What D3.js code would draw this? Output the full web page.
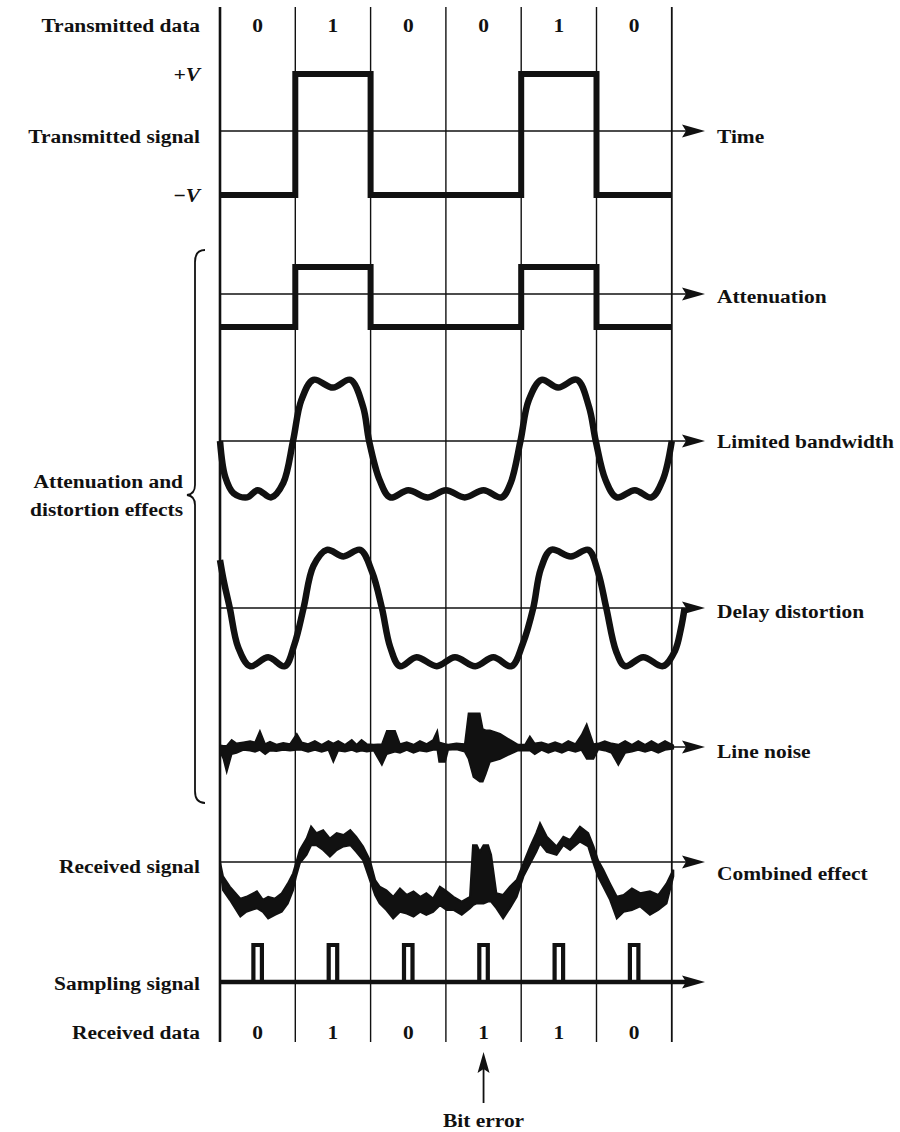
<!DOCTYPE html>
<html>
<head>
<meta charset="utf-8">
<script src="https://cdn.jsdelivr.net/npm/d3@7"></script>
<style>
  html, body { margin: 0; padding: 0; background: #fff; }
  svg text { font-family: "Liberation Serif", "Times New Roman", serif; font-weight: bold; font-size: 19.5px; fill: #111; }
</style>
</head>
<body>
<div id="displayContent"></div>
<script>
// bit streams (time in bit periods, 0..6)
const sentBits = [0, 1, 0, 0, 1, 0];
const receivedBits = [0, 1, 0, 1, 1, 0];
const sampleTimes = [0.5, 1.5, 2.5, 3.5, 4.5, 5.5];

// [t, v] with v in units of V
const bandwidthCurve = [
    [0.00, 0.00], [0.07, -0.60], [0.18, -0.87], [0.36, -0.94], [0.50, -0.82], [0.68, -0.94],
    [0.84, -0.70], [0.97, 0.00], [1.08, 0.68], [1.24, 1.02], [1.50, 0.89], [1.73, 1.02],
    [1.90, 0.57], [1.98, 0.00], [2.12, -0.65], [2.26, -0.94], [2.50, -0.82], [2.76, -0.94],
    [3.00, -0.82], [3.25, -0.94], [3.50, -0.82], [3.74, -0.94], [3.86, -0.70], [3.99, 0.00],
    [4.10, 0.68], [4.27, 1.02], [4.49, 0.89], [4.74, 1.02], [4.90, 0.57], [4.99, 0.00],
    [5.12, -0.65], [5.27, -0.94], [5.51, -0.82], [5.73, -0.94], [5.88, -0.65], [6.00, 0.00]
];

const delayCurve = [
    [0.00, 0.80], [0.05, 0.45], [0.13, 0.00], [0.24, -0.65], [0.40, -0.97], [0.64, -0.82],
    [0.86, -0.97], [0.99, -0.60], [1.11, 0.00], [1.24, 0.70], [1.42, 0.97], [1.64, 0.86],
    [1.86, 0.97], [2.02, 0.60], [2.15, 0.00], [2.26, -0.65], [2.39, -0.97], [2.61, -0.82],
    [2.88, -0.97], [3.12, -0.82], [3.39, -0.97], [3.63, -0.82], [3.87, -0.97], [4.02, -0.60],
    [4.16, 0.00], [4.26, 0.65], [4.40, 0.97], [4.66, 0.86], [4.89, 0.97], [5.02, 0.60],
    [5.13, 0.00], [5.26, -0.72], [5.38, -0.97], [5.62, -0.82], [5.88, -0.97], [6.04, -0.72],
    [6.12, -0.35], [6.17, 0.00]
];

// [t, upper, lower]
const noiseBand = [
    [0.00, 0.03, -0.08], [0.045, 0.02, -0.20], [0.089, 0.02, -0.42], [0.155, 0.12, -0.12],
    [0.22, 0.06, -0.10], [0.31, 0.08, -0.05], [0.40, 0.10, -0.06], [0.465, 0.08, -0.08],
    [0.53, 0.27, -0.05], [0.60, 0.05, -0.12], [0.664, 0.09, -0.06], [0.75, 0.04, -0.07],
    [0.84, 0.07, -0.05], [0.93, 0.05, -0.06], [1.02, 0.22, -0.05], [1.085, 0.08, -0.05],
    [1.17, 0.05, -0.08], [1.26, 0.10, -0.05], [1.35, 0.04, -0.08], [1.44, 0.10, -0.05],
    [1.505, 0.06, -0.25], [1.57, 0.10, -0.06], [1.66, 0.04, -0.08], [1.75, 0.12, -0.05],
    [1.815, 0.04, -0.08], [1.88, 0.12, -0.06], [1.95, 0.05, -0.08], [2.04, 0.04, -0.06],
    [2.15, 0.05, -0.30], [2.215, 0.27, -0.12], [2.325, 0.27, -0.08], [2.39, 0.05, -0.10],
    [2.48, 0.08, -0.05], [2.57, 0.04, -0.10], [2.655, 0.10, -0.06], [2.745, 0.05, -0.08],
    [2.83, 0.12, -0.05], [2.886, 0.27, -0.05], [2.91, 0.08, -0.25], [2.99, 0.05, -0.25],
    [3.03, 0.04, -0.05], [3.14, 0.06, -0.04], [3.25, 0.05, -0.08], [3.30, 0.56, -0.20],
    [3.365, 0.56, -0.50], [3.45, 0.56, -0.58], [3.49, 0.30, -0.58], [3.53, 0.28, -0.45],
    [3.585, 0.28, -0.25], [3.72, 0.22, -0.20], [3.85, 0.12, -0.12], [3.96, 0.04, -0.06],
    [4.05, 0.04, -0.06], [4.115, 0.18, -0.06], [4.18, 0.06, -0.12], [4.27, 0.08, -0.05],
    [4.36, 0.04, -0.10], [4.45, 0.08, -0.06], [4.54, 0.04, -0.10], [4.625, 0.10, -0.05],
    [4.72, 0.05, -0.08], [4.80, 0.20, -0.05], [4.87, 0.38, -0.20], [4.96, 0.05, -0.20],
    [5.025, 0.06, -0.04], [5.11, 0.10, -0.06], [5.20, 0.06, -0.10], [5.29, 0.04, -0.30],
    [5.38, 0.10, -0.10], [5.47, 0.04, -0.08], [5.555, 0.10, -0.05], [5.645, 0.04, -0.08],
    [5.73, 0.10, -0.05], [5.82, 0.04, -0.10], [5.91, 0.10, -0.05], [6.02, 0.03, -0.03]
];

const combinedBand = [
    [0.00, 0.00, -0.08], [0.04, -0.24, -0.47], [0.13, -0.41, -0.63], [0.27, -0.61, -0.91],
    [0.35, -0.58, -0.83], [0.49, -0.49, -0.77], [0.57, -0.63, -0.83], [0.64, -0.58, -0.94],
    [0.73, -0.61, -0.88], [0.82, -0.52, -0.83], [0.90, -0.36, -0.69], [0.97, -0.19, -0.47],
    [1.01, -0.02, -0.24], [1.06, 0.20, -0.02], [1.15, 0.39, 0.12], [1.21, 0.59, 0.28],
    [1.28, 0.48, 0.28], [1.37, 0.53, 0.20], [1.46, 0.39, 0.09], [1.55, 0.48, 0.20],
    [1.64, 0.45, 0.26], [1.73, 0.53, 0.28], [1.81, 0.42, 0.17], [1.90, 0.26, 0.03],
    [1.99, 0.03, -0.30], [2.06, -0.30, -0.55], [2.12, -0.41, -0.69], [2.21, -0.47, -0.80],
    [2.30, -0.58, -0.94], [2.39, -0.44, -0.83], [2.48, -0.55, -0.86], [2.57, -0.49, -0.91],
    [2.66, -0.58, -0.83], [2.74, -0.52, -0.88], [2.83, -0.61, -0.83], [2.92, -0.41, -0.72],
    [3.01, -0.49, -0.80], [3.10, -0.58, -0.80], [3.21, -0.66, -0.88], [3.32, -0.58, -0.77],
    [3.36, 0.28, -0.72], [3.41, 0.28, -0.69], [3.45, 0.17, -0.69], [3.50, 0.28, -0.69],
    [3.56, 0.28, -0.66], [3.60, 0.12, -0.66], [3.67, -0.52, -0.77], [3.76, -0.55, -0.94],
    [3.85, -0.41, -0.77], [3.94, -0.30, -0.58], [4.03, -0.02, -0.24], [4.12, 0.26, -0.02],
    [4.20, 0.48, 0.17], [4.25, 0.645, 0.31], [4.34, 0.42, 0.17], [4.47, 0.26, 0.12],
    [4.56, 0.42, 0.28], [4.65, 0.37, 0.20], [4.78, 0.59, 0.34], [4.89, 0.48, 0.26],
    [4.96, 0.26, -0.02], [5.02, 0.03, -0.24], [5.09, -0.13, -0.41], [5.18, -0.36, -0.63],
    [5.27, -0.58, -0.94], [5.36, -0.55, -0.83], [5.47, -0.44, -0.80], [5.58, -0.52, -0.74],
    [5.71, -0.49, -0.88], [5.82, -0.55, -0.80], [5.93, -0.36, -0.69], [6.02, -0.13, -0.24]
];

const leftLabels = ["Transmitted data", "Transmitted signal", "Received signal", "Sampling signal", "Received data"];
const rightLabels = ["Time", "Attenuation", "Limited bandwidth", "Delay distortion", "Line noise", "Combined effect"];
const levelLabels = ["+V", "\u2212V"];
const braceLabel = ["Attenuation and", "distortion effects"];
const errorLabel = "Bit error";

const W = 900, H = 1132;
const SX = 1.1; // scan is stretched sideways

const x = d3.scaleLinear().domain([0, 6]).range([220, 671.8]);

function rowScale(mid, amp) {
    return d3.scaleLinear().domain([-1, 1]).range([mid + amp, mid - amp]);
}

const rows = {
    sent:  { axis: 131, y: rowScale(134.5, 60.5), label: 143 },
    att:   { axis: 294, y: rowScale(297, 30), label: 303 },
    bw:    { axis: 441, y: rowScale(441, 60), label: 448 },
    delay: { axis: 608, y: rowScale(608, 60), label: 618 },
    noise: { axis: 747, y: rowScale(747, 60), label: 758 },
    comb:  { axis: 862, y: rowScale(862, 60), label: 880 },
    samp:  { axis: 982, y: d3.scaleLinear().domain([0, 1]).range([982, 945]), label: 990 }
};

const svg = d3.select("#displayContent")
    .append("svg")
    .attr("width", W)
    .attr("height", H)
    .attr("xmlns", "http://www.w3.org/2000/svg");

svg.append("rect").attr("width", W).attr("height", H).attr("fill", "#fff");

// bit boundaries
svg.append("g")
    .selectAll("line")
    .data(d3.range(0, 7))
    .enter()
    .append("line")
    .attr("x1", d => x(d)).attr("x2", d => x(d))
    .attr("y1", 7).attr("y2", 1042)
    .attr("stroke", "#111")
    .attr("stroke-width", d => d === 0 ? 2.6 : (d === 6 ? 1.8 : 1.4));

// axes with arrow heads
function axisArrow(yPos, width, withHead) {
    svg.append("line")
        .attr("x1", x(0)).attr("x2", withHead ? 688 : x(6))
        .attr("y1", yPos).attr("y2", yPos)
        .attr("stroke", "#111")
        .attr("stroke-width", width);
    if (withHead) {
        svg.append("path")
            .attr("d", `M682,${yPos - 6.5} L705,${yPos} L682,${yPos + 6.5} L686,${yPos} Z`)
            .attr("fill", "#111");
    }
}
axisArrow(rows.sent.axis, 1.5, true);
axisArrow(rows.att.axis, 1.5, true);
axisArrow(rows.bw.axis, 1.5, true);
axisArrow(rows.delay.axis, 1.5, true);
axisArrow(rows.noise.axis, 1.5, true);
axisArrow(rows.comb.axis, 1.5, true);
axisArrow(rows.samp.axis, 4.5, true);

// square waves
function stepPoints(bits) {
    let pts = bits.map((b, i) => [i, b ? 1 : -1]);
    pts.push([bits.length, bits[bits.length - 1] ? 1 : -1]);
    return pts;
}

function drawStep(row) {
    svg.append("path")
        .datum(stepPoints(sentBits))
        .attr("d", d3.line()
            .x(d => x(d[0]))
            .y(d => row.y(d[1]))
            .curve(d3.curveStepAfter))
        .attr("fill", "none")
        .attr("stroke", "#111")
        .attr("stroke-width", 6)
        .attr("stroke-linejoin", "miter");
}
drawStep(rows.sent);
drawStep(rows.att);

// smooth distorted waves
function drawSmooth(data, row) {
    svg.append("path")
        .datum(data)
        .attr("d", d3.line()
            .x(d => x(d[0]))
            .y(d => row.y(d[1]))
            .curve(d3.curveCatmullRom.alpha(0.5)))
        .attr("fill", "none")
        .attr("stroke", "#111")
        .attr("stroke-width", 6.5)
        .attr("stroke-linejoin", "round");
}
drawSmooth(bandwidthCurve, rows.bw);
drawSmooth(delayCurve, rows.delay);

// noisy bands
function drawBand(data, row, sw) {
    svg.append("path")
        .datum(data)
        .attr("d", d3.area()
            .x(d => x(d[0]))
            .y0(d => row.y(d[2]))
            .y1(d => row.y(d[1])))
        .attr("fill", "#111")
        .attr("stroke", "#111")
        .attr("stroke-width", sw)
        .attr("stroke-linejoin", "miter");
}
drawBand(noiseBand, rows.noise, 1.6);
drawBand(combinedBand, rows.comb, 2.0);

// sampling pulses
const pulseW = 0.113;
svg.append("g")
    .selectAll("path")
    .data(sampleTimes)
    .enter()
    .append("path")
    .attr("d", t => d3.line()
        .x(d => x(d[0]))
        .y(d => rows.samp.y(d[1]))([[t - pulseW / 2, 0], [t - pulseW / 2, 1], [t + pulseW / 2, 1], [t + pulseW / 2, 0]]))
    .attr("fill", "none")
    .attr("stroke", "#111")
    .attr("stroke-width", 4.2)
    .attr("stroke-linejoin", "miter");

// text helpers (stretched horizontally like the scan)
function label(txt, px, py, anchor, italic) {
    let g = svg.append("g").attr("transform", `translate(${px},${py}) scale(${SX},1)`);
    let t = g.append("text")
        .attr("text-anchor", anchor)
        .text(txt);
    if (italic) t.style("font-style", "italic");
    return t;
}

// left labels
const leftY = [32, rows.sent.label, rows.comb.axis + 11, rows.samp.label, 1039];
leftLabels.forEach((s, i) => label(s, 200, leftY[i], "end"));
label(levelLabels[0], 200, 81, "end", true);
label(levelLabels[1], 200, 202, "end", true);

// right labels
const rightY = [rows.sent.label, rows.att.label, rows.bw.label, rows.delay.label, rows.noise.label, rows.comb.label];
rightLabels.forEach((s, i) => label(s, 717, rightY[i], "start"));

// bit values
sentBits.forEach((b, i) => label(String(b), x(i + 0.5), 32, "middle"));
receivedBits.forEach((b, i) => label(String(b), x(i + 0.5), 1039, "middle"));

// brace
const bp = d3.path();
bp.moveTo(205, 250);
bp.quadraticCurveTo(195, 250, 195, 262);
bp.lineTo(195, 485);
bp.quadraticCurveTo(195, 494, 187, 495);
bp.quadraticCurveTo(195, 496, 195, 505);
bp.lineTo(195, 791);
bp.quadraticCurveTo(195, 803, 205, 803);
svg.append("path")
    .attr("d", bp.toString())
    .attr("fill", "none")
    .attr("stroke", "#111")
    .attr("stroke-width", 1.8);

label(braceLabel[0], 183, 488, "end");
label(braceLabel[1], 183, 516, "end");

// bit error arrow
const errT = 3.5;
svg.append("line")
    .attr("x1", x(errT)).attr("x2", x(errT))
    .attr("y1", 1103).attr("y2", 1068)
    .attr("stroke", "#111").attr("stroke-width", 1.8);
svg.append("path")
    .attr("d", `M${x(errT) - 6},1073 L${x(errT)},1052 L${x(errT) + 6},1073 L${x(errT)},1069 Z`)
    .attr("fill", "#111");
label(errorLabel, x(errT), 1127, "middle");
</script>
</body>
</html>
